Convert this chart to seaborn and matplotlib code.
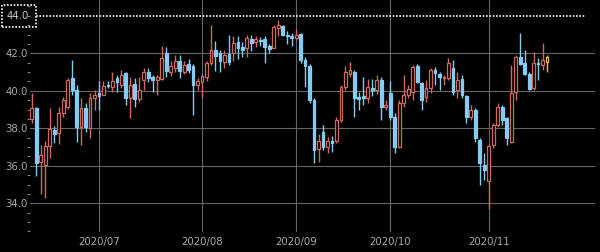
import numpy as np
import pandas as pd
import matplotlib
matplotlib.use("Agg")
import matplotlib.pyplot as plt
from matplotlib.patches import Rectangle
import seaborn as sns

# ---------------- data ----------------
holidays = ["2020-09-07"]
dates = pd.bdate_range("2020-06-10", "2020-11-19")
dates = dates[~dates.isin(pd.to_datetime(holidays))]

opens = [38.5, 39.1, 36.2, 36.05, 37.05, 37.9, 37.75, 38.8, 39.15, 40.66,
         40.04, 38.09, 39.07, 38.0, 39.6, 39.87, 39.78, 40.3, 40.19, 40.66,
         40.31, 40.93, 39.6, 40.36, 39.55, 40.58, 40.98, 40.75, 40.58, 40.61,
         42.0, 41.0, 41.2, 41.6, 41.0, 41.45, 41.3, 40.3, 40.45, 40.75,
         41.5, 42.18, 42.0, 41.55, 41.95, 42.0, 42.6, 42.35, 42.3, 42.75,
         42.6, 42.7, 42.75, 42.4, 42.3, 43.35, 43.45, 43.0, 42.92, 42.8,
         43.05, 41.64, 41.3, 39.5, 36.9, 37.8, 37.0, 37.33, 37.3, 38.45,
         40.2, 40.9, 41.0, 39.65, 39.7, 39.6, 40.17, 40.05, 40.58, 39.12,
         39.87, 38.62, 37.02, 39.33, 39.78, 39.96, 41.32, 40.4, 39.69, 40.13,
         41.11, 40.88, 40.67, 40.67, 41.2, 40.04, 40.61, 39.72, 38.62, 38.98,
         37.38, 36.04, 35.2, 37.11, 38.18, 39.15, 38.53, 37.29, 39.96, 41.79,
         41.47, 40.9, 40.13, 41.5, 41.38, 41.55]
closes = [39.07, 36.13, 36.6, 37.05, 37.95, 37.7, 38.83, 39.5, 40.6, 40.04,
          38.09, 39.07, 38.09, 39.6, 39.78, 39.72, 40.26, 40.28, 40.52, 40.49,
          40.84, 39.6, 40.3, 39.55, 40.05, 41.02, 40.7, 40.58, 40.75, 41.77,
          41.06, 41.3, 41.6, 41.06, 41.4, 41.1, 40.3, 40.5, 40.78, 41.5,
          42.2, 41.85, 41.6, 41.9, 41.55, 42.55, 42.3, 42.2, 42.8, 42.57,
          42.75, 42.65, 42.35, 42.25, 43.4, 43.5, 43.0, 42.9, 42.8, 42.95,
          41.64, 41.3, 39.5, 36.85, 37.3, 37.0, 37.3, 37.22, 38.45, 40.2,
          41.0, 41.1, 39.6, 39.55, 39.6, 40.2, 40.05, 40.58, 39.15, 39.25,
          38.62, 37.02, 39.33, 39.78, 40.1, 41.29, 40.49, 39.51, 40.13, 41.11,
          40.93, 40.75, 40.75, 41.47, 39.96, 40.58, 39.78, 38.62, 38.98, 37.47,
          36.13, 35.78, 37.05, 38.18, 39.15, 38.44, 37.47, 39.87, 41.82, 41.43,
          40.9, 40.08, 41.47, 41.45, 41.64, 41.82]
highs = [39.87, 39.15, 37.1, 37.3, 39.1, 38.1, 39.15, 39.65, 40.7, 41.64,
         40.31, 39.6, 39.33, 39.87, 40.04, 40.54, 40.5, 40.54, 41.0, 40.84,
         41.11, 41.0, 40.75, 40.66, 40.75, 41.2, 41.2, 40.84, 40.84, 42.39,
         42.35, 41.6, 41.9, 41.9, 41.6, 41.7, 41.45, 40.7, 40.85, 41.6,
         43.5, 42.65, 42.2, 42.2, 43.0, 42.9, 42.9, 42.6, 43.0, 42.95,
         42.9, 42.85, 42.9, 42.5, 43.5, 43.75, 43.5, 43.2, 43.1, 43.3,
         43.1, 41.8, 41.45, 39.6, 37.7, 38.2, 37.55, 37.6, 38.6, 40.3,
         41.3, 41.55, 41.1, 39.95, 40.75, 40.65, 40.65, 40.85, 40.75, 39.5,
         40.5, 38.8, 39.5, 40.84, 40.3, 41.38, 41.45, 40.49, 40.58, 41.2,
         41.29, 41.02, 40.84, 41.73, 41.64, 41.02, 40.84, 39.78, 39.24, 39.07,
         37.47, 36.67, 37.15, 38.27, 39.33, 39.24, 38.62, 41.38, 41.91, 43.07,
         42.2, 41.02, 42.09, 41.73, 42.53, 41.91]
lows = [38.3, 35.45, 34.5, 34.3, 36.4, 37.2, 37.15, 38.6, 39.05, 39.78,
        37.29, 37.1, 37.82, 37.46, 38.98, 38.98, 39.78, 40.13, 39.95, 39.95,
        40.13, 39.24, 38.55, 39.15, 39.4, 40.05, 40.49, 39.95, 39.78, 40.55,
        40.75, 40.8, 41.0, 40.7, 40.9, 40.95, 38.7, 40.05, 39.6, 40.5,
        41.4, 41.05, 41.0, 41.2, 41.4, 41.6, 41.7, 41.8, 41.8, 42.1,
        42.35, 42.4, 41.5, 42.0, 42.3, 42.9, 42.9, 42.5, 42.4, 42.7,
        41.5, 40.2, 39.35, 36.15, 36.2, 36.85, 36.7, 36.75, 37.2, 38.35,
        40.05, 40.75, 38.6, 39.0, 39.25, 39.35, 39.7, 39.85, 38.45, 38.95,
        38.45, 36.67, 36.95, 39.15, 39.6, 39.5, 40.4, 38.98, 39.42, 39.87,
        40.31, 40.04, 40.31, 40.58, 39.78, 39.6, 39.6, 38.27, 38.44, 37.29,
        34.98, 35.24, 33.7, 36.93, 38.09, 38.18, 37.11, 37.2, 39.51, 41.38,
        40.84, 40.04, 40.04, 40.58, 41.11, 41.02]

y_ticks = [34.0, 36.0, 38.0, 40.0, 42.0]
price_line = 44.0

# ---------------- styling ----------------
sns.set_theme(style="dark", rc={"axes.facecolor": "black", "figure.facecolor": "black"})
plt.rcParams["font.family"] = ["DejaVu Sans"]

UP = "#d0695d"
DOWN = "#86cbf2"
LAST = "#e6c046"
GRID = "#666666"
TXT = "#ababab"

df = pd.DataFrame({"date": dates, "open": opens, "high": highs, "low": lows, "close": closes})
df["i"] = np.arange(len(df))
up = df["close"] >= df["open"]
edge = np.where(up, UP, DOWN).astype(object)
face = np.where(up, "black", DOWN).astype(object)
edge[-1] = LAST
face[-1] = "black"

bottom = np.minimum(df["open"], df["close"])
height = np.maximum(np.abs(df["close"] - df["open"]), 0.05)

fig = plt.figure(figsize=(6.0, 2.52), dpi=100, facecolor="black")
ax = fig.add_axes([30 / 600, 20 / 252, 565 / 600, 232 / 252])
ax.set_facecolor("black")

ax.vlines(df["i"], df["low"], df["high"], colors=list(edge), linewidth=1.0, zorder=3)
ax.bar(df["i"], height, bottom=bottom, width=0.62, color=list(face),
       edgecolor=list(edge), linewidth=0.9, zorder=4)

# month ticks
month_start = df.groupby(df["date"].dt.to_period("M"))["i"].min()
month_start = month_start[month_start > 0]
ax.set_xticks(month_start.values)
ax.set_xticklabels([d.strftime("%Y/%m") for d in df.loc[month_start.values, "date"]])

ax.set_yticks(y_ticks)
ax.set_yticklabels([f"{v:.1f}" for v in y_ticks])
ax.set_yticks(np.arange(32.5, 45.0, 0.5), minor=True)

ax.set_xlim(-0.4, 125.7)
ax.set_ylim(32.47, 44.84)

ax.grid(True, which="major", color=GRID, linewidth=0.8, zorder=1)
ax.grid(False, which="minor")
for s in ax.spines.values():
    s.set_visible(False)

ax.tick_params(axis="y", which="both", left=True)
ax.tick_params(axis="y", which="major", length=0, pad=1.5, labelsize=7.3, labelcolor=TXT)
ax.tick_params(axis="y", which="minor", length=2.4, width=0.8, color="#808080", direction="out")
ax.tick_params(axis="x", which="major", length=0, pad=3.5, labelsize=7.3, labelcolor=TXT)

# current price line + boxed label
ax.axhline(price_line, xmin=0.011, xmax=0.982, color="white",
           linestyle=(0, (1, 1)), linewidth=1.2, zorder=5)
fig.patches.append(Rectangle((2 / 600, (252 - 27) / 252), 34 / 600, 22 / 252,
                             transform=fig.transFigure, fill=False, edgecolor="white",
                             linestyle=(0, (1, 1)), linewidth=1.2))
fig.text(18 / 600, (252 - 16) / 252, f"{price_line:.1f}", color="#cfcfcf",
         fontsize=7.3, ha="center", va="center")

fig.savefig("out.png", dpi=100, facecolor="black")
